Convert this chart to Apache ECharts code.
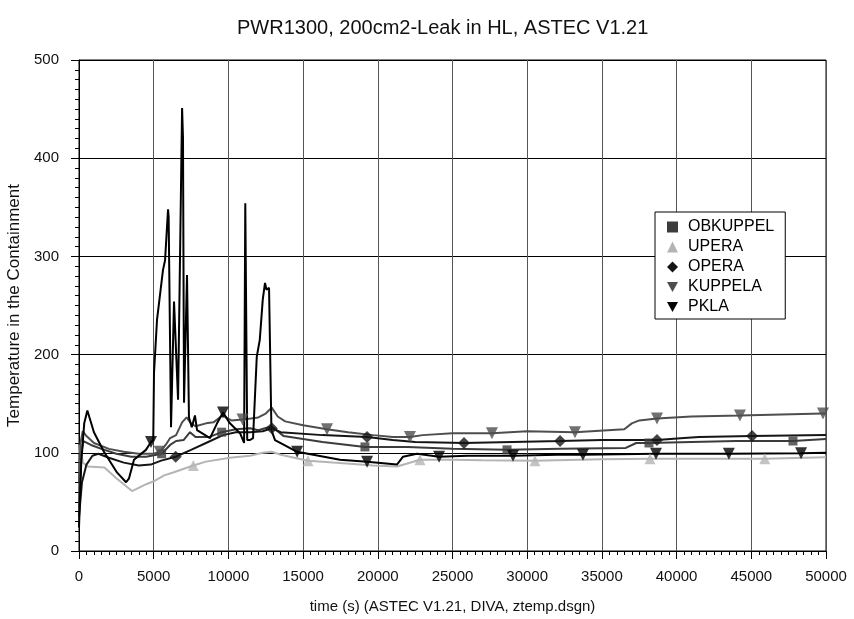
<!DOCTYPE html>
<html>
<head>
<meta charset="utf-8">
<script src="https://cdn.jsdelivr.net/npm/echarts@6/dist/echarts.min.js"></script>
<style>
html,body{margin:0;padding:0;background:#fff;}
#chart{width:854px;height:619px;}
</style>
</head>
<body>
<div id="chart"></div>
<script>
// ---- data (time s, temperature) ----
const seriesNames = ['OBKUPPEL', 'UPERA', 'OPERA', 'KUPPELA', 'PKLA'];
const xTicks = [0, 5000, 10000, 15000, 20000, 25000, 30000, 35000, 40000, 45000, 50000];
const yTicks = [0, 100, 200, 300, 400, 500];

const obkuppel = [[0,45],[150,100],[300,112],[800,108],[1500,104],[2500,99],[3500,96],[4500,96],[5530,99],[6100,108],[6500,112],[7000,113],[7430,121],[7800,116],[8700,116],[9550,121],[10500,124],[11450,125],[12000,123],[12900,127],[13700,117],[16300,111],[19140,106],[22000,106],[25000,104],[28650,103],[32200,104],[36600,105],[37300,110],[38150,110],[41000,111],[44000,112],[47790,112],[50000,114]];
const upera = [[0,100],[100,108],[250,90],[600,86],[1700,85],[2500,74],[3550,61],[4500,68],[5000,71],[5700,77],[6300,80],[7650,87],[8500,91],[10100,95],[11450,97],[12300,100],[12900,101],[13500,98],[15330,92],[17000,90],[19680,87],[21300,86],[22820,93],[25000,93],[27000,92.5],[30520,92],[35000,93.5],[38220,94],[42000,94],[45900,94],[50000,95.5]];
const opera = [[0,35],[200,70],[500,88],[900,97],[1300,99],[2000,95],[3000,90],[4000,87],[4800,88],[5500,92],[6470,96],[7500,103],[8500,110],[9640,118],[10500,121],[11450,121],[12300,122],[12900,125],[13500,121],[16300,118],[19280,116],[21000,113],[22500,111],[25770,110],[29000,111],[32200,112],[35000,113],[38690,113],[40500,115],[41500,116],[45050,117],[50000,118]];
const kuppela = [[0,70],[100,110],[250,122],[500,117],[1000,110],[2000,104],[3000,101],[4000,99],[5000,99],[5400,101],[5800,108],[6100,115],[6500,118],[6900,131],[7200,136],[7500,130],[7800,127],[8500,130],[9000,131],[9600,138],[10200,133],[10950,134],[11500,135],[12000,136],[12500,140],[12900,146],[13300,137],[13800,132],[15000,128],[16600,124],[18000,121],[19700,118],[21000,116],[22150,116],[23000,118],[25000,120],[27640,120],[30000,122],[33200,121],[36500,124],[37000,130],[37500,133],[38690,135],[41000,137],[44240,138],[47000,139],[49800,140],[50000,140]];
const pkla = [[0,24],[150,90],[350,130],[560,143],[1000,121],[1670,101],[2540,80],[3150,70],[3350,74],[3680,93],[4480,103],[4820,111],[4970,113],[5020,181],[5220,235],[5620,286],[5760,296],[5960,348],[6000,340],[6160,126],[6360,254],[6630,154],[6900,451],[6960,421],[7030,151],[7230,281],[7360,136],[7550,126],[7760,138],[7900,123],[8770,115],[9240,130],[9640,141],[10100,130],[10780,120],[11050,110],[11130,354],[11200,354],[11260,113],[11450,113],[11650,115],[11900,198],[12100,215],[12300,256],[12450,273],[12550,266],[12720,268],[12800,266],[12880,123],[13120,113],[14600,101],[17470,93],[19280,91],[21280,88],[21690,96],[22620,99],[24100,96],[26000,97],[29050,97],[32000,98],[33730,98],[38620,99],[43500,99],[48330,99.5],[50000,100]];

// marker positions (time s, temperature)
const obkuppelMarks = [[5530,99],[9550,121],[19140,106],[28650,103],[38150,110],[47790,112]];
const uperaMarks = [[7650,87],[15330,92],[22820,93],[30520,92],[38220,94],[45900,94]];
const operaMarks = [[6470,96],[12900,125],[19280,116],[25770,110],[32200,112],[38690,113],[45050,117]];
const kuppelaMarks = [[5400,101],[10950,134],[16600,124],[22150,116],[27640,120],[33200,121],[38690,135],[44240,138],[49800,140]];
const pklaMarks = [[4820,111],[9640,141],[14600,101],[19280,91],[24100,96],[29050,97],[33730,98],[38620,99],[43500,99],[48330,99.5]];

// ---- styling ----
const FONT = "'Liberation Sans', Arial, sans-serif";
const TRI_DOWN = 'path://M0,0 L10,0 L5,9 Z';
const defs = [
  {name: seriesNames[0], line: obkuppel, marks: obkuppelMarks, color: '#3c3c3c', symbol: 'rect', size: 9},
  {name: seriesNames[1], line: upera, marks: uperaMarks, color: '#b4b4b4', symbol: 'triangle', size: 11},
  {name: seriesNames[2], line: opera, marks: operaMarks, color: '#151515', symbol: 'diamond', size: 12},
  {name: seriesNames[3], line: kuppela, marks: kuppelaMarks, color: '#4e4e4e', symbol: TRI_DOWN, size: 12},
  {name: seriesNames[4], line: pkla, marks: pklaMarks, color: '#000000', symbol: TRI_DOWN, size: 12}
];

const series = [];
defs.forEach(function (d, i) {
  series.push({
    name: d.name, type: 'line', data: d.line, showSymbol: false, symbol: 'none',
    lineStyle: {color: d.color, width: 2}, itemStyle: {color: d.color},
    z: 2 + i, animation: false
  });
});
defs.forEach(function (d, i) {
  series.push({
    name: d.name, type: 'scatter', data: d.marks, symbol: d.symbol, symbolSize: d.size,
    itemStyle: {color: d.color}, z: 10 + i, animation: false
  });
});

const plain = function (v) { return String(v); };

const chart = echarts.init(document.getElementById('chart'), null, {renderer: 'canvas'});
chart.setOption({
  backgroundColor: '#ffffff',
  animation: false,
  textStyle: {fontFamily: FONT},
  title: {
    text: 'PWR1300, 200cm2-Leak in HL, ASTEC V1.21',
    left: 232, top: 13,
    textStyle: {fontFamily: FONT, fontSize: 20, fontWeight: 'normal', color: '#111'}
  },
  legend: {
    orient: 'vertical', left: 655, top: 212,
    backgroundColor: '#fff', borderColor: '#000', borderWidth: 1,
    padding: [7, 11, 4, 12], itemGap: 4, itemWidth: 11, itemHeight: 11,
    textStyle: {fontFamily: FONT, fontSize: 16, color: '#000', padding: [0, 0, 0, 5]},
    data: defs.map(function (d) { return {name: d.name, icon: d.symbol, itemStyle: {color: d.color}}; })
  },
  grid: {left: 79, right: 28, top: 60, bottom: 68, show: true, borderColor: '#000', borderWidth: 1,
         backgroundColor: 'transparent', containLabel: false, outerBoundsMode: 'none'},
  xAxis: {
    type: 'value', min: xTicks[0], max: xTicks[xTicks.length - 1], interval: 5000,
    name: 'time (s) (ASTEC V1.21, DIVA, ztemp.dsgn)', nameLocation: 'middle', nameGap: 48,
    nameTextStyle: {fontFamily: FONT, fontSize: 15, color: '#111'},
    axisLine: {show: true, lineStyle: {color: '#000', width: 1}},
    axisTick: {show: true, inside: false, length: 8, lineStyle: {color: '#000'}},
    minorTick: {show: true, splitNumber: 10, length: 4, lineStyle: {color: '#000'}},
    axisLabel: {fontFamily: FONT, fontSize: 15, color: '#111', margin: 18, formatter: plain},
    splitLine: {show: true, lineStyle: {color: '#555', width: 1}}
  },
  yAxis: {
    type: 'value', min: yTicks[0], max: yTicks[yTicks.length - 1], interval: 100,
    name: 'Temperature in the Containment', nameLocation: 'middle', nameGap: 52,
    nameTextStyle: {fontFamily: FONT, fontSize: 17, color: '#111'},
    axisLine: {show: true, lineStyle: {color: '#000', width: 1}},
    axisTick: {show: true, inside: false, length: 8, lineStyle: {color: '#000'}},
    minorTick: {show: true, splitNumber: 10, length: 4, lineStyle: {color: '#000'}},
    axisLabel: {fontFamily: FONT, fontSize: 15, color: '#111', margin: 20, formatter: plain},
    splitLine: {show: true, lineStyle: {color: '#000', width: 1}}
  },
  series: series
});
</script>
</body>
</html>
